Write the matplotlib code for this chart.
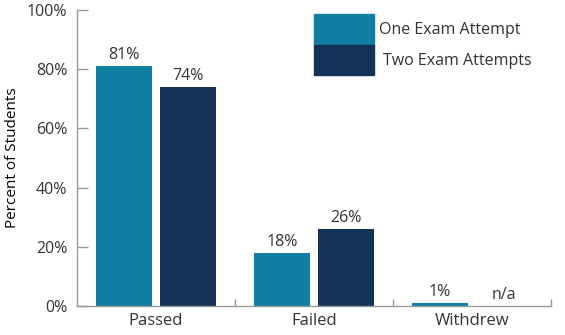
import matplotlib
matplotlib.use('Agg')
import matplotlib.pyplot as plt
from matplotlib.patches import Rectangle
import numpy as np

plt.rcParams['font.family'] = ['Open Sans', 'DejaVu Sans']
plt.rcParams['text.color'] = '#333333'

categories = ['Passed', 'Failed', 'Withdrew']
one_attempt = [81, 18, 1]
two_attempts = [74, 26, None]  # no withdrew value -> n/a
series_names = ['One Exam Attempt', 'Two Exam Attempts']
yticks = [0, 20, 40, 60, 80, 100]

teal = '#107fa2'
navy = '#143255'
grey = '#9a9a9a'

W, H = 565, 335
fig = plt.figure(figsize=(W/100, H/100), dpi=100)
ax = fig.add_axes([77/W, 1 - 306/H, (551-77)/W, (306-10)/H])

x = np.arange(len(categories))
w = 0.36
off = 0.2025

b1 = ax.bar(x - off, one_attempt, w, color=teal)
two_vals = [v if v is not None else 0 for v in two_attempts]
b2 = ax.bar(x + off, two_vals, w, color=navy)

for xi, v in zip(x, one_attempt):
    ax.text(xi - off, v + 1, f'{v}%', ha='center', va='bottom', fontsize=11.5)
for xi, v in zip(x, two_attempts):
    txt = f'{v}%' if v is not None else 'n/a'
    yy = v + 1 if v is not None else 1
    ax.text(xi + off, yy, txt, ha='center', va='bottom', fontsize=11.5)

ax.set_xlim(-0.5, 2.5)
ax.set_ylim(0, 100)
ax.set_yticks(yticks)
ax.set_yticklabels([f'{t}%' for t in yticks])
ax.set_xticks(x)
ax.set_xticklabels(categories)
ax.set_xticks([0.5, 1.5, 2.5], minor=True)

ax.tick_params(axis='y', direction='in', length=8, width=1, color=grey,
               labelsize=11.5, pad=7, labelcolor='#333333')
ax.tick_params(axis='x', which='major', length=0, labelsize=12, pad=5,
               labelcolor='#333333')
ax.tick_params(axis='x', which='minor', direction='in', length=5, width=1, color=grey)

for s in ['top', 'right']:
    ax.spines[s].set_visible(False)
for s in ['left', 'bottom']:
    ax.spines[s].set_color(grey)
    ax.spines[s].set_linewidth(1)

ax.set_ylabel('Percent of Students', fontsize=11, labelpad=5)

# legend drawn by hand: two stacked swatches with labels to the right
sw_x, sw_w, sw_h = 314, 60, 30.5
for i, (name, col) in enumerate(zip(series_names, [teal, navy])):
    top = 14 + i * sw_h
    fig.patches.append(Rectangle((sw_x/W, 1 - (top + sw_h)/H), sw_w/W, sw_h/H,
                                 transform=fig.transFigure, color=col))
    fig.text((sw_x + sw_w + 5 + 4*i)/W, 1 - (top + sw_h/2 + 1)/H, name,
             ha='left', va='center', fontsize=11.5)

fig.savefig('out.png', dpi=100)
